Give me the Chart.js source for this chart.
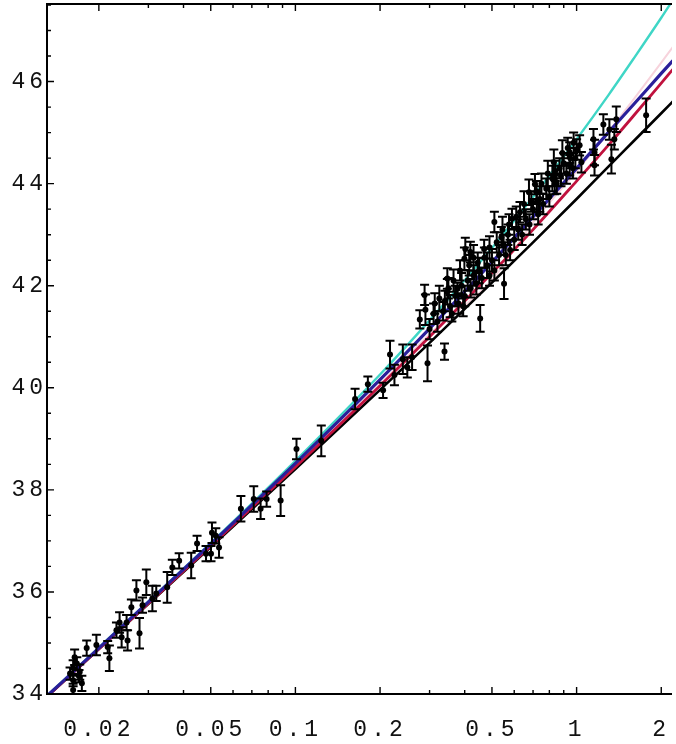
<!DOCTYPE html>
<html>
<head>
<meta charset="utf-8">
<script src="https://cdn.jsdelivr.net/npm/chart.js@4/dist/chart.umd.min.js"></script>
<style>
html,body{margin:0;padding:0;background:#fff;overflow:hidden}
#c{display:block}
</style>
</head>
<body>
<canvas id="c" width="676" height="744"></canvas>
<script>
// ---- model curves (distance modulus vs redshift) ----
const modelZ     = [0.01308, 0.02, 0.05, 0.1, 0.2, 0.3, 0.5, 0.7, 1.0, 1.3, 1.6, 2.0, 2.2];
const muDeSitter = [33.97, 34.91, 36.96, 38.57, 40.26, 41.32, 42.74, 43.74, 44.87, 45.74, 46.46, 47.25, 47.60];
const muMilne    = [33.96, 34.89, 36.91, 38.47, 40.07, 41.05, 42.11, 43.24, 44.24, 45.02, 45.66, 46.37, 46.68];
const muFlatL    = [33.96, 34.90, 36.94, 38.52, 40.16, 41.16, 42.46, 43.35, 44.30, 45.01, 45.56, 46.16, 46.41];
const muOpen     = [33.95, 34.88, 36.90, 38.45, 40.04, 41.00, 42.25, 43.10, 44.05, 44.76, 45.34, 45.97, 46.24];
const muEdS      = [33.95, 34.88, 36.88, 38.41, 39.96, 40.88, 42.06, 42.85, 43.70, 44.34, 44.84, 45.38, 45.61];

// ---- supernova data ----
const snZ = [0.0162,0.0162,0.0164,0.0162,0.0171,0.0174,0.0167,0.0170,0.0158,0.0181,
             0.0196,0.0215,0.0218,0.0231,0.0241,0.0253,0.0237,0.0251,0.0261,0.0272,
             0.0279,0.0286,0.0295,0.0310,0.0320,0.0350,0.0365,0.0386,0.0426,0.0447,
             0.0481,0.0505,0.0521,0.0535,0.0501,0.0640,0.0711,0.0752,0.0790,0.0886,
             0.1009,0.1236,0.163,0.181,0.205,0.217,0.241,0.225,0.25,0.26,
             0.277,0.290,0.295,0.313,0.339,0.347,0.377,0.399,0.454,0.469,
             0.30,0.32,0.335,0.34,0.355,0.36,0.37,0.38,0.39,0.40,
             0.41,0.42,0.43,0.44,0.45,0.46,0.48,0.49,0.50,0.51,
             0.288,0.347,0.402,0.51,0.419,0.552,0.589,0.629,0.677,0.711,
             0.722,0.830,0.836,0.976,1.0,1.04,1.148,1.158,1.025,0.945,
             1.245,1.308,1.384,1.33,1.362,1.767,1.158,0.945,0.60,0.62,
             0.64,0.66,0.68,0.70,0.73,0.74,0.76,0.78,0.80,0.82,
             0.85,0.87,0.88,0.90,0.92,0.95,0.97,0.55,0.56,0.57,
             0.58,0.53,0.54,
             0.31,0.325,0.35,0.365,0.385,0.395,0.415,0.43,0.445,0.47,
             0.49,0.52,0.545,0.575,0.61,0.65,0.69,0.72,0.75,0.79,
             0.84,0.89,0.93,0.99];
const snMu = [34.08,34.27,34.72,34.51,34.43,34.21,34.60,34.35,34.40,34.90,
              34.96,34.92,34.70,35.25,35.11,35.05,35.40,35.40,35.70,36.03,
              35.19,35.74,36.19,35.87,35.97,36.09,36.48,36.61,36.52,36.95,
              36.75,37.16,37.10,36.87,36.75,37.63,37.82,37.63,37.82,37.79,
              38.80,38.96,39.78,40.07,39.95,40.65,40.56,40.25,40.40,40.60,
              41.34,41.53,40.48,41.65,40.71,41.88,41.94,42.53,41.36,42.72,
              41.15,41.30,41.50,41.70,41.60,41.45,41.80,41.65,42.00,41.80,
              42.10,41.95,42.20,42.05,42.30,42.15,42.40,42.20,42.50,42.30,
              41.82,42.14,42.72,43.25,42.66,42.04,43.31,43.44,43.83,43.99,
              43.64,44.42,43.99,44.80,44.67,44.42,44.87,44.61,44.75,44.61,
              45.16,45.06,45.26,44.48,44.87,45.34,44.36,44.36,42.90,43.10,
              43.00,43.30,43.20,43.50,43.40,43.70,43.60,43.90,43.75,44.10,
              44.00,44.30,44.15,44.40,44.20,44.50,44.30,42.80,42.60,43.00,
              42.70,42.60,42.95,
              41.45,41.75,41.95,42.10,42.30,41.60,42.40,42.55,42.45,42.55,
              42.75,42.85,43.10,43.20,43.35,43.60,43.65,43.85,44.00,44.20,
              44.25,44.60,44.70,44.50];
const snErr = [0.12,0.12,0.15,0.15,0.15,0.15,0.12,0.12,0.12,0.15,
               0.20,0.12,0.25,0.15,0.20,0.20,0.20,0.15,0.15,0.20,
               0.30,0.15,0.25,0.25,0.15,0.30,0.15,0.15,0.25,0.15,
               0.15,0.20,0.15,0.20,0.15,0.25,0.25,0.20,0.15,0.30,
               0.20,0.30,0.20,0.15,0.15,0.27,0.29,0.20,0.20,0.25,
               0.18,0.30,0.35,0.20,0.16,0.25,0.12,0.22,0.26,0.18,
               0.20,0.20,0.18,0.20,0.22,0.15,0.20,0.20,0.25,0.20,
               0.20,0.18,0.20,0.22,0.25,0.20,0.25,0.20,0.22,0.20,
               0.20,0.20,0.22,0.20,0.20,0.30,0.20,0.20,0.25,0.20,
               0.20,0.25,0.20,0.20,0.20,0.20,0.20,0.25,0.20,0.20,
               0.20,0.20,0.25,0.28,0.20,0.33,0.20,0.20,0.20,0.20,
               0.20,0.20,0.20,0.20,0.20,0.25,0.20,0.20,0.20,0.25,
               0.20,0.20,0.20,0.20,0.20,0.20,0.20,0.20,0.20,0.20,
               0.20,0.20,0.20,
               0.20,0.25,0.20,0.22,0.20,0.20,0.20,0.25,0.20,0.20,
               0.22,0.20,0.25,0.20,0.20,0.25,0.20,0.20,0.20,0.25,
               0.20,0.25,0.20,0.20];

// ---- axes ----
const xTickLabels = [0.02, 0.05, 0.1, 0.2, 0.5, 1, 2];
const yTickLabels = [34, 36, 38, 40, 42, 44, 46];
const xRange = [0.01308, 2.184];
const yRange = [34, 47.52];

const pts = (xs, ys) => xs.map((v, i) => ({x: v, y: ys[i]}));

const errorBars = {
  id: 'errorBars',
  beforeDatasetDraw(chart, args) {
    const ds = chart.data.datasets[args.index];
    if (!ds.errors) return;
    const {ctx, chartArea: a, scales: {x, y}} = chart;
    ctx.save();
    ctx.beginPath();
    ctx.rect(a.left, a.top, a.right - a.left, a.bottom - a.top);
    ctx.clip();
    ctx.strokeStyle = '#000';
    ctx.lineWidth = 2;
    ds.data.forEach((p, i) => {
      const e = ds.errors[i];
      const px = x.getPixelForValue(p.x);
      const y1 = y.getPixelForValue(p.y + e);
      const y2 = y.getPixelForValue(p.y - e);
      ctx.beginPath();
      ctx.moveTo(px, y1); ctx.lineTo(px, y2);
      ctx.moveTo(px - 4.5, y1); ctx.lineTo(px + 4.5, y1);
      ctx.moveTo(px - 4.5, y2); ctx.lineTo(px + 4.5, y2);
      ctx.stroke();
    });
    ctx.restore();
  }
};

const noPad = s => { s.paddingTop = 0; s.paddingBottom = 0; s.paddingLeft = 0; s.paddingRight = 0; };

const frame = {
  id: 'frame',
  beforeDraw(chart) { chart.ctx.letterSpacing = '4px'; },
  afterDraw(chart) {
    const {ctx, chartArea: a, scales: {x, y}} = chart;
    ctx.save();
    ctx.letterSpacing = '0px';
    ctx.strokeStyle = '#000';
    ctx.lineWidth = 2;
    ctx.beginPath();
    ctx.moveTo(a.left, a.bottom); ctx.lineTo(a.right, a.bottom);
    ctx.moveTo(a.left, a.top); ctx.lineTo(a.right, a.top);
    ctx.moveTo(a.left, a.top - 1); ctx.lineTo(a.left, a.bottom + 1);
    ctx.stroke();
    ctx.lineWidth = 1.4;
    ctx.beginPath();
    for (let e = -2; e <= 0; e++) {
      for (let k = 1; k <= 9; k++) {
        const v = k * Math.pow(10, e);
        if (v < xRange[0] || v > xRange[1]) continue;
        const major = xTickLabels.some(t => Math.abs(t - v) < 1e-9);
        const len = major ? 7 : 4;
        const px = x.getPixelForValue(v);
        ctx.moveTo(px, a.bottom); ctx.lineTo(px, a.bottom - len);
        ctx.moveTo(px, a.top); ctx.lineTo(px, a.top + len);
      }
    }
    for (let v = yRange[0]; v <= yRange[1]; v += 0.5) {
      const major = yTickLabels.includes(v);
      const len = major ? 7 : 4;
      const py = y.getPixelForValue(v);
      ctx.moveTo(a.left, py); ctx.lineTo(a.left + len, py);
    }
    ctx.stroke();
    ctx.restore();
  }
};

const tickFont = {family: 'Liberation Mono', size: 23};

new Chart(document.getElementById('c'), {
  type: 'scatter',
  data: {
    datasets: [
      {label: 'SNe Ia', data: pts(snZ, snMu), errors: snErr, order: 0,
       pointRadius: 3, pointBackgroundColor: '#000', pointBorderWidth: 0, showLine: false},
      {label: 'flat, Lambda', data: pts(modelZ, muFlatL), order: 1, showLine: true,
       borderColor: '#2a1f9a', borderWidth: 3.2, pointRadius: 0, cubicInterpolationMode: 'monotone', clip: 0},
      {label: 'open', data: pts(modelZ, muOpen), order: 2, showLine: true,
       borderColor: '#c0123e', borderWidth: 2.8, pointRadius: 0, cubicInterpolationMode: 'monotone', clip: 0},
      {label: 'Einstein-de Sitter', data: pts(modelZ, muEdS), order: 3, showLine: true,
       borderColor: '#000000', borderWidth: 2.6, pointRadius: 0, cubicInterpolationMode: 'monotone', clip: 0},
      {label: 'empty', data: pts(modelZ, muMilne), order: 4, showLine: true,
       borderColor: '#f7d3dc', borderWidth: 2, pointRadius: 0, cubicInterpolationMode: 'monotone', clip: 0},
      {label: 'de Sitter', data: pts(modelZ, muDeSitter), order: 5, showLine: true,
       borderColor: '#3fd6c6', borderWidth: 2.4, pointRadius: 0, cubicInterpolationMode: 'monotone', clip: 0}
    ]
  },
  options: {
    responsive: false,
    animation: false,
    devicePixelRatio: 1,
    layout: {padding: {top: 1, right: 0, left: 0, bottom: 0}},
    plugins: {legend: {display: false}, tooltip: {enabled: false}},
    scales: {
      x: {
        type: 'logarithmic', position: 'bottom',
        min: xRange[0], max: xRange[1],
        grid: {display: false, drawTicks: false},
        border: {display: false},
        afterBuildTicks: s => { s.ticks = xTickLabels.map(v => ({value: v, major: false})); },
        afterFit: s => { s.height = 50; noPad(s); },
        ticks: {autoSkip: false, maxRotation: 0, color: '#111', font: tickFont, padding: 22,
                callback: v => String(v)}
      },
      y: {
        type: 'linear', position: 'left',
        min: yRange[0], max: yRange[1],
        grid: {display: false, drawTicks: false},
        border: {display: false},
        afterBuildTicks: s => { s.ticks = yTickLabels.map(v => ({value: v})); },
        afterFit: s => { s.width = 47; noPad(s); },
        ticks: {color: '#111', font: tickFont, padding: 0, callback: v => String(v)}
      }
    }
  },
  plugins: [errorBars, frame]
});
</script>
</body>
</html>
